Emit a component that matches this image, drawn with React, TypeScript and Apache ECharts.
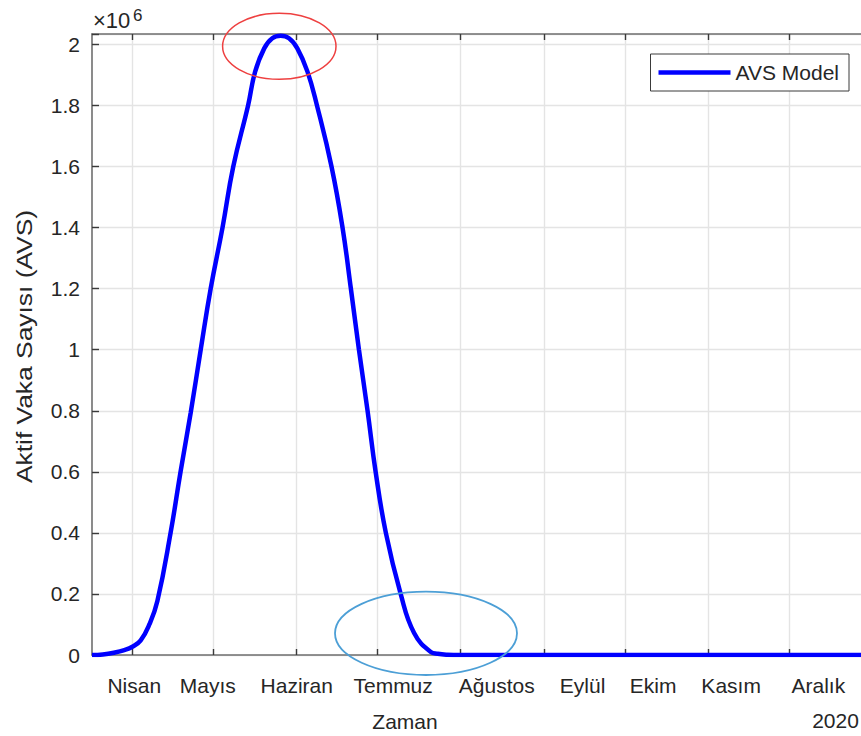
import React, { useEffect, useRef } from "react";
import * as echarts from "echarts";

// Day of year 2020 (Jan 1 = 0) and active case counts
const caseDays = [
  76, 80, 84.1, 88, 91, 94.1, 97.3, 100.3, 105.2, 108.9, 112.7, 116.4, 120.1, 124.5,
  128.5, 134.0, 136.6, 140.0, 143.0, 146.1, 149.2, 152.3, 156.1, 159.6, 165.0, 169.1,
  172.2, 175.2, 178.4, 181.4, 185.2, 190.7, 195.7, 201.9, 204.5, 208, 213, 240, 270,
  300, 330, 366,
];
const activeCases = [
  0, 2000, 7500, 16000, 27000, 48000, 100000, 177000, 400000, 600000, 795000, 1000000,
  1200000, 1400000, 1600000, 1800000, 1910000, 1987000, 2020000, 2028000, 2020000,
  1987000, 1910000, 1800000, 1600000, 1400000, 1200000, 1000000, 800000, 600000,
  400000, 200000, 72000, 10000, 4000, 1000, 0, 0, 0, 0, 0, 0,
];

// Month starts (grid/ticks) and label anchor days
const monthStartDays = [91, 121, 152, 182, 213, 244, 274, 305, 335];
const monthLabelDays = [91.7, 119.0, 152.1, 187.9, 226.4, 258.3, 284.5, 313.5, 345.9];
const monthNames = ["Nisan", "Mayıs", "Haziran", "Temmuz", "Ağustos", "Eylül", "Ekim", "Kasım", "Aralık"];

const X_MIN = 76;
const X_MAX = 366;
const Y_MAX = 2034000;
const Y_STEP = 200000;

const FONT = "'Liberation Sans', Arial, Helvetica, sans-serif";
const TXT = "#262626";

export default function App() {
  const ref = useRef<HTMLDivElement>(null);

  useEffect(() => {
    if (!ref.current) return;
    const chart = echarts.init(ref.current, null, { renderer: "svg" });
    const data = caseDays.map((d, i) => [d, activeCases[i]]);

    const axisLineStyle = { color: "#6f6f6f", width: 1.6 };
    const tickStyle = { color: "#3a3a3a", width: 1.4 };

    chart.setOption({
      animation: false,
      backgroundColor: "#ffffff",
      textStyle: { fontFamily: FONT },
      grid: {
        left: 92,
        top: 34,
        right: 7.6,
        bottom: 81,
        containLabel: false,
        outerBoundsMode: "none",
      },
      legend: {
        right: 31,
        top: 54,
        padding: [8, 10, 8, 8],
        itemWidth: 72,
        itemHeight: 4.5,
        backgroundColor: "#ffffff",
        borderColor: "#3a3a3a",
        borderWidth: 1,
        borderRadius: 0,
        textStyle: { fontSize: 21, color: TXT, fontFamily: FONT },
        data: [{ name: "AVS Model", icon: "rect" }],
        itemStyle: { color: "#0000ff" },
      },
      xAxis: [
        {
          type: "value",
          min: X_MIN,
          max: X_MAX,
          position: "bottom",
          axisLine: { show: true, onZero: false, lineStyle: axisLineStyle },
          axisTick: {
            show: true,
            inside: true,
            length: 6,
            customValues: monthStartDays,
            lineStyle: tickStyle,
          },
          splitLine: { show: true, lineStyle: { color: "#e4e4e4", width: 1.4 } },
          axisLabel: {
            show: true,
            customValues: monthLabelDays,
            margin: 20,
            fontSize: 21,
            color: TXT,
            fontFamily: FONT,
            formatter: (v: number) => {
              const i = monthLabelDays.findIndex((d) => Math.abs(d - v) < 1e-6);
              return i >= 0 ? monthNames[i] : "";
            },
          },
        },
        {
          type: "value",
          min: X_MIN,
          max: X_MAX,
          position: "top",
          axisLine: { show: true, onZero: false, lineStyle: axisLineStyle },
          axisTick: {
            show: true,
            inside: true,
            length: 6,
            customValues: monthStartDays,
            lineStyle: tickStyle,
          },
          splitLine: { show: false },
          axisLabel: { show: false },
        },
      ],
      yAxis: {
        type: "value",
        min: 0,
        max: Y_MAX,
        interval: Y_STEP,
        axisLine: { show: true, lineStyle: axisLineStyle },
        axisTick: { show: true, inside: true, length: 7, lineStyle: tickStyle },
        splitLine: { show: true, lineStyle: { color: "#e4e4e4", width: 1.4 } },
        axisLabel: {
          margin: 12,
          fontSize: 21,
          color: TXT,
          fontFamily: FONT,
          formatter: (v: number) => {
            const k = v / Y_STEP;
            if (Math.abs(k - Math.round(k)) > 1e-6) return "";
            return String(Math.round(v / 1e5) / 10);
          },
        },
      },
      series: [
        {
          name: "AVS Model",
          type: "line",
          xAxisIndex: 0,
          data,
          symbol: "none",
          smooth: 0.45,
          clip: true,
          lineStyle: { color: "#0000ff", width: 4.5 },
          itemStyle: { color: "#0000ff" },
          z: 5,
        },
      ],
      graphic: [
        {
          type: "text",
          x: 93,
          y: 20.5,
          style: { text: "×10", fontSize: 22, fill: TXT, fontFamily: FONT, align: "left", verticalAlign: "middle" },
        },
        {
          type: "text",
          x: 133,
          y: 15,
          style: { text: "6", fontSize: 17, fill: TXT, fontFamily: FONT, align: "left", verticalAlign: "middle" },
        },
        {
          type: "text",
          x: 24,
          y: 346.5,
          rotation: Math.PI / 2,
          scaleX: 1.2,
          style: {
            text: "Aktif Vaka Sayısı (AVS)",
            fontSize: 22,
            fill: TXT,
            fontFamily: FONT,
            align: "center",
            verticalAlign: "middle",
          },
        },
        {
          type: "text",
          x: 405,
          y: 721.5,
          style: { text: "Zaman", fontSize: 21, fill: TXT, fontFamily: FONT, align: "center", verticalAlign: "middle" },
        },
        {
          type: "text",
          x: 835.5,
          y: 720.5,
          style: { text: "2020", fontSize: 21, fill: TXT, fontFamily: FONT, align: "center", verticalAlign: "middle" },
        },
        {
          type: "ellipse",
          z: 100,
          shape: { cx: 279.3, cy: 46.3, rx: 56.7, ry: 33 },
          style: { fill: "none", stroke: "#ee4040", lineWidth: 1.5 },
        },
        {
          type: "ellipse",
          z: 100,
          shape: { cx: 426, cy: 633.3, rx: 91, ry: 41.7 },
          style: { fill: "none", stroke: "#4c9fd6", lineWidth: 1.8 },
        },
      ],
    });

    return () => chart.dispose();
  }, []);

  return (
    <div
      style={{
        position: "fixed",
        left: 0,
        top: 0,
        width: 861,
        height: 736,
        overflow: "hidden",
        background: "#ffffff",
      }}
    >
      <div ref={ref} style={{ width: 880, height: 736 }} />
    </div>
  );
}
